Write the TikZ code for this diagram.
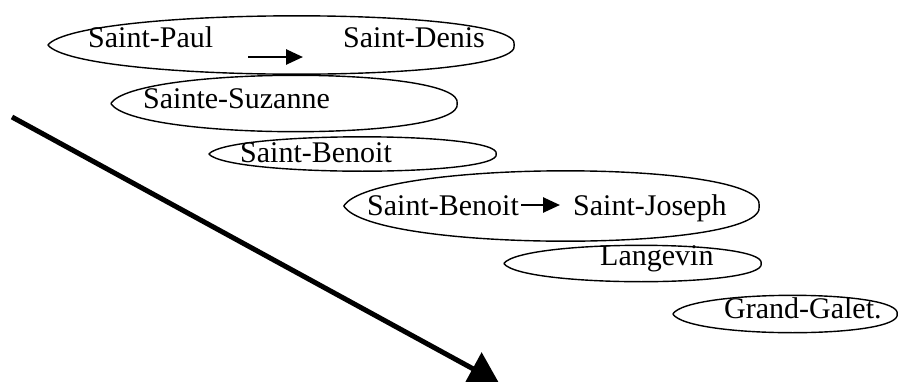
\documentclass[tikz,border=0pt]{standalone}
\usepackage{fontspec}
\setmainfont{Liberation Serif}
\usetikzlibrary{arrows.meta,calc}
\newcommand\drawleaf[1]{%
  \draw[ovalline] let \p1=(#1.west), \p2=(#1.north east) in
  (\p1) .. controls ({\x1+0.07*(\x2-\x1)}, {\y1+1.333*(\y2-\y1)}) and ({\x2+0.02*(\x2-\x1)}, {\y1+1.333*(\y2-\y1)}) .. (\x2,\y1)
  .. controls ({\x2+0.02*(\x2-\x1)}, {\y1-1.333*(\y2-\y1)}) and ({\x1+0.07*(\x2-\x1)}, {\y1-1.333*(\y2-\y1)}) .. (\p1);}
\begin{document}
\begin{tikzpicture}[x=1pt,y=-1pt,
  ovalbox/.style={shape=rectangle,draw=none,inner sep=0pt},
  ovalline/.style={line width=1.4pt,line join=round},
  lbl/.style={anchor=base west,inner sep=0pt,font=\fontsize{30}{31}\selectfont},
  smallarr/.style={line width=2.6pt,-{Triangle[length=17pt,width=15pt]}},
  bigarr/.style={line width=5pt,-{Triangle[length=30pt,width=36pt]}}]
\useasboundingbox (0,0) rectangle (902,381);
\clip (0,0) rectangle (902,381);
% oval outlines
\node[ovalbox,minimum width=466pt,minimum height=58pt] (e1) at (281,45) {};
\node[ovalbox,minimum width=346pt,minimum height=56pt] (e2) at (284,103.5) {};
\node[ovalbox,minimum width=287pt,minimum height=34pt] (e3) at (352.5,154) {};
\node[ovalbox,minimum width=415pt,minimum height=70pt] (e4) at (551.5,206) {};
\node[ovalbox,minimum width=257pt,minimum height=36pt] (e5) at (632.5,263.5) {};
\node[ovalbox,minimum width=224pt,minimum height=37pt] (e6) at (785,314) {};
\drawleaf{e1}\drawleaf{e2}\drawleaf{e3}\drawleaf{e4}\drawleaf{e5}\drawleaf{e6}
% labels
\node[lbl] (sp) at (88,47) {Saint-Paul};
\node[lbl] (sd) at (343,47) {Saint-Denis};
\node[lbl] (ss) at (143,108) {Sainte-Suzanne};
\node[lbl] (sb) at (240,162) {Saint-Benoit};
\node[lbl] (sb2) at (367,215) {Saint-Benoit};
\node[lbl] (sj) at (573,215) {Saint-Joseph};
\node[lbl] (lg) at (600,265) {Langevin};
\node[lbl] (gg) at (724,318) {Grand-Galet.};
% arrows
\draw[smallarr] ($(sp.base east)+(35,10)$) -- ($(sd.base west)+(-40,10)$);
\draw[smallarr] ($(sb2.base east)+(2,-10)$) -- ($(sj.base west)+(-13,-10)$);
\coordinate (bs) at (12,117);
\coordinate (be) at (499,383);
\draw[bigarr] (bs) -- (be);
\end{tikzpicture}
\end{document}
